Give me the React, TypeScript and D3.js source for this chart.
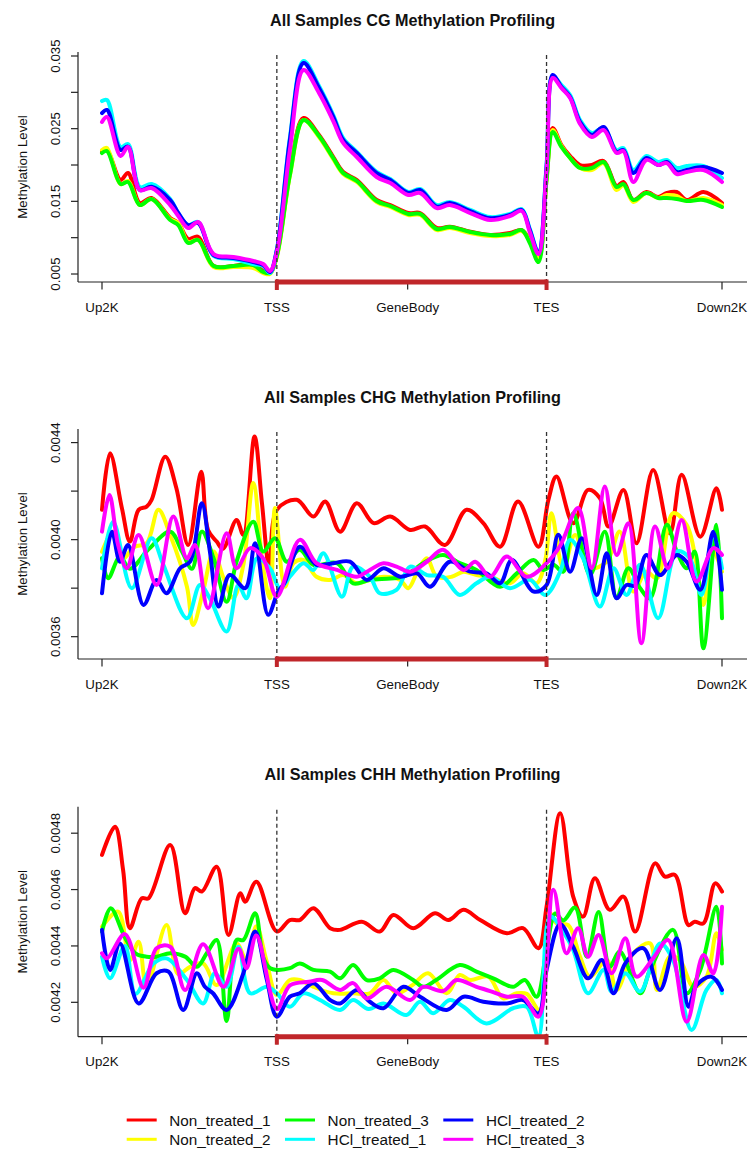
import React from 'react';
import * as d3 from 'd3';

type Pt = [number, number];

const seriesNames = ['Non_treated_1', 'Non_treated_2', 'Non_treated_3', 'HCl_treated_1', 'HCl_treated_2', 'HCl_treated_3'];
const seriesColors = ['#ff0000', '#ffff00', '#00ff00', '#00ffff', '#0000ff', '#ff00ff'];

const regionLabels = ['Up2K', 'TSS', 'GeneBody', 'TES', 'Down2K'];
const regionPos = [0, 28.2, 49.3, 71.7, 100];
const tssPos = 28.2;
const tesPos = 71.7;

// ---------- CG ----------
const cgPos = [0, 0.8, 3, 4.2, 6.1, 8, 11, 12.3, 13.9, 15.5, 18, 21.2, 24.4, 26, 27.1, 28.2, 30.3, 32.5, 35, 37.3, 38.9, 41.1, 44.3, 46.5, 49.4, 51.3, 54, 56.1, 59.4, 62.6, 65.8, 67.7, 69, 70.4, 71.7, 72.7, 74.1, 75.5, 77.1, 79, 80.9, 83, 84.1, 85.7, 87.8, 89.7, 91.1, 92.7, 94.3, 97, 100];
const cgNon1 = [0.02179, 0.02206, 0.01793, 0.0189, 0.01477, 0.01546, 0.01271, 0.01202, 0.00982, 0.01013,
  0.0061, 0.0061, 0.00638, 0.00541, 0.00514, 0.00761, 0.0189, 0.02647, 0.02413, 0.0211,
  0.01904, 0.01793, 0.01518, 0.01449, 0.01339, 0.01339, 0.01133, 0.01151, 0.01082, 0.01037,
  0.01064, 0.01105, 0.00968, 0.0072, 0.01835, 0.02509, 0.02275, 0.02124, 0.02, 0.02,
  0.02055, 0.01711, 0.01766, 0.01518, 0.01628, 0.0156, 0.01615, 0.01628, 0.01518, 0.01628, 0.01477];
const cgNon2 = [0.02206, 0.02234, 0.01738, 0.0178, 0.01449, 0.01532, 0.01257, 0.01202, 0.0094, 0.00968,
  0.00596, 0.00596, 0.00583, 0.00514, 0.005, 0.00734, 0.01849, 0.02619, 0.02385, 0.02082,
  0.01876, 0.01766, 0.01491, 0.01422, 0.01312, 0.01312, 0.01105, 0.01133, 0.01064, 0.01023,
  0.01037, 0.01092, 0.00954, 0.00706, 0.01793, 0.02481, 0.02261, 0.02096, 0.01959, 0.01931,
  0.02027, 0.01656, 0.01725, 0.01491, 0.01615, 0.01546, 0.01587, 0.01573, 0.01504, 0.01546, 0.01449];
const cgNon3 = [0.02165, 0.02192, 0.01738, 0.01766, 0.01449, 0.01532, 0.01243, 0.01174, 0.00927, 0.00968,
  0.0061, 0.0061, 0.00624, 0.00528, 0.00514, 0.00748, 0.01862, 0.02619, 0.02399, 0.02096,
  0.0189, 0.0178, 0.01504, 0.01436, 0.01326, 0.01326, 0.01119, 0.01147, 0.01078, 0.01037,
  0.0105, 0.01105, 0.00927, 0.00665, 0.01793, 0.02454, 0.02248, 0.02096, 0.01959, 0.01959,
  0.02041, 0.01697, 0.01738, 0.01518, 0.01615, 0.01546, 0.01546, 0.01532, 0.01504, 0.01518, 0.01422];
const cgHcl1 = [0.0288, 0.02894, 0.02248, 0.02289, 0.01697, 0.01738, 0.01532, 0.01339, 0.01174, 0.01216,
  0.00748, 0.00706, 0.00638, 0.0061, 0.00514, 0.0083, 0.02371, 0.03431, 0.03087, 0.02688,
  0.02371, 0.02179, 0.01904, 0.01807, 0.01628, 0.0167, 0.01449, 0.01491, 0.01381, 0.01284,
  0.01326, 0.01394, 0.01119, 0.00803, 0.02, 0.03224, 0.031, 0.02963, 0.02619, 0.0244,
  0.02509, 0.02206, 0.02234, 0.01931, 0.02124, 0.02041, 0.02069, 0.01959, 0.01986, 0.01986, 0.01821];
const cgHcl2 = [0.02715, 0.02757, 0.02206, 0.02252, 0.01656, 0.01701, 0.01518, 0.01339, 0.01174, 0.01202,
  0.00761, 0.0072, 0.00665, 0.00624, 0.00528, 0.0083, 0.02344, 0.03403, 0.03059, 0.02664,
  0.02344, 0.02165, 0.0189, 0.01793, 0.01615, 0.01656, 0.01426, 0.01477, 0.01364, 0.01267,
  0.01312, 0.01381, 0.01105, 0.00789, 0.01972, 0.03238, 0.03073, 0.02936, 0.02592, 0.02413,
  0.02523, 0.02179, 0.02206, 0.0189, 0.02096, 0.02, 0.02041, 0.01904, 0.01931, 0.01972, 0.0189];
const cgHcl3 = [0.02592, 0.0266, 0.02124, 0.02248, 0.01656, 0.01683, 0.01449, 0.01298, 0.01133, 0.01216,
  0.00775, 0.00734, 0.00679, 0.00638, 0.00541, 0.00803, 0.02206, 0.03307, 0.02991, 0.02605,
  0.02303, 0.0211, 0.01835, 0.01752, 0.01587, 0.01615, 0.01408, 0.01449, 0.01339, 0.01243,
  0.01298, 0.01367, 0.01078, 0.00775, 0.01931, 0.03197, 0.03059, 0.02922, 0.02564, 0.02385,
  0.02481, 0.02165, 0.02192, 0.01766, 0.02069, 0.02, 0.02027, 0.01876, 0.01904, 0.01931, 0.01766];

// ---------- CHG ----------
const chgNon1: Pt[] = [[0, 0.004123], [1.3, 0.004356], [3.2, 0.004131], [4.5, 0.003992], [5.9, 0.004123], [7.2, 0.004136], [8.0, 0.004164], [10.2, 0.004342], [12.0, 0.004212], [13.9, 0.003978], [16.0, 0.00428], [17.1, 0.00404], [18.5, 0.003992], [19.5, 0.003962], [21.7, 0.004081], [22.8, 0.004019], [24.6, 0.004425], [25.8, 0.00415], [27.0, 0.003883], [28.2, 0.004123], [31.4, 0.004164], [34.1, 0.004095], [36.0, 0.004157], [38.4, 0.004033], [41.1, 0.00415], [43.8, 0.004068], [46.5, 0.004095], [49.7, 0.00404], [52.1, 0.004054], [55.3, 0.003978], [58.8, 0.004123], [61.5, 0.004068], [64.2, 0.003971], [67.1, 0.004157], [70.4, 0.003971], [72.0, 0.004164], [73.3, 0.00426], [76.0, 0.004068], [78.4, 0.004205], [80.3, 0.004171], [81.7, 0.004054], [84.1, 0.004205], [86.2, 0.003985], [88.9, 0.004287], [91.6, 0.004026], [93.5, 0.004267], [96.5, 0.004012], [99.1, 0.004212], [100, 0.004123]];
const chgNon2: Pt[] = [[0, 0.00395], [1.8, 0.004033], [3.4, 0.003923], [5.2, 0.00397], [7.2, 0.003985], [9.1, 0.004123], [11.0, 0.004019], [13.7, 0.003806], [14.7, 0.003648], [16.3, 0.003786], [18.0, 0.003951], [19.6, 0.003842], [21.2, 0.00376], [22.8, 0.003896], [24.4, 0.004233], [26.0, 0.003882], [27.1, 0.003758], [27.9, 0.00413], [29.5, 0.003806], [30.9, 0.003903], [32.5, 0.003916], [34.6, 0.003847], [36.8, 0.003834], [38.9, 0.003854], [41.1, 0.00382], [43.2, 0.003834], [45.4, 0.003847], [48.1, 0.003834], [49.4, 0.0038], [51.0, 0.003875], [52.4, 0.003923], [54.0, 0.003847], [56.4, 0.003847], [58.3, 0.003868], [60.4, 0.003854], [62.6, 0.003847], [65.8, 0.00382], [67.9, 0.003861], [70.1, 0.00382], [71.5, 0.003916], [72.5, 0.004109], [74.4, 0.003882], [76.3, 0.004019], [78.6, 0.003883], [81.4, 0.003909], [83.5, 0.004033], [85.7, 0.003786], [87.8, 0.003868], [89.5, 0.00384], [92.1, 0.004109], [94.3, 0.004061], [95.9, 0.003896], [97.0, 0.003731], [98.6, 0.003951], [100, 0.003868]];
const chgNon3: Pt[] = [[0, 0.003923], [1.0, 0.003841], [2.9, 0.00393], [4.5, 0.00388], [7.5, 0.00396], [11.0, 0.004033], [12.9, 0.003951], [14.5, 0.00388], [16.1, 0.004033], [18.0, 0.003923], [20.1, 0.003744], [21.7, 0.003909], [24.4, 0.004074], [26.0, 0.003951], [27.9, 0.004006], [29.8, 0.003909], [31.9, 0.003958], [34.1, 0.003896], [37.9, 0.003903], [40.5, 0.00382], [43.2, 0.003834], [46.5, 0.00384], [48.6, 0.003847], [51.8, 0.003903], [55.0, 0.003937], [57.7, 0.003903], [60.4, 0.003875], [64.2, 0.003806], [66.9, 0.003861], [69.6, 0.003916], [71.2, 0.003875], [72.8, 0.003896], [74.4, 0.003868], [76.0, 0.004109], [78.7, 0.003854], [81.1, 0.004033], [83.0, 0.00376], [84.9, 0.003882], [86.8, 0.0038], [88.4, 0.003758], [91.1, 0.004061], [92.7, 0.003951], [94.3, 0.003882], [95.6, 0.003951], [97.0, 0.003552], [99.1, 0.004061], [100, 0.003676]];
const chgHcl1: Pt[] = [[0, 0.003882], [1.8, 0.004074], [4.8, 0.0038], [8.0, 0.004006], [9.9, 0.003896], [13.7, 0.003676], [15.8, 0.003813], [17.4, 0.003758], [20.1, 0.003621], [22.0, 0.003813], [23.3, 0.003758], [25.0, 0.003923], [27.1, 0.003882], [28.7, 0.0038], [30.3, 0.003847], [32.5, 0.003903], [34.1, 0.003875], [35.7, 0.003944], [38.7, 0.003765], [40.5, 0.003889], [43.2, 0.003847], [44.8, 0.003779], [47.5, 0.003793], [49.7, 0.003889], [52.4, 0.003854], [55.0, 0.003847], [57.7, 0.003772], [60.4, 0.00382], [62.6, 0.003847], [65.8, 0.0038], [69.0, 0.003834], [71.5, 0.003772], [73.9, 0.003868], [75.5, 0.003999], [77.6, 0.003923], [80.3, 0.003724], [82.5, 0.003882], [84.6, 0.003772], [86.8, 0.003896], [89.7, 0.003676], [92.7, 0.003951], [94.8, 0.003923], [96.7, 0.003772], [98.6, 0.004019], [100, 0.003882]];
const chgHcl2: Pt[] = [[0, 0.003779], [1.6, 0.004033], [2.9, 0.003909], [4.2, 0.003978], [6.7, 0.003731], [8.8, 0.003834], [10.4, 0.003779], [12.6, 0.003882], [14.2, 0.003909], [16.1, 0.00415], [17.4, 0.003951], [18.8, 0.003724], [20.6, 0.003854], [23.1, 0.0038], [24.7, 0.003985], [26.8, 0.00369], [28.4, 0.003786], [29.4, 0.00382], [31.9, 0.003971], [34.6, 0.003896], [37.3, 0.003903], [40.0, 0.003909], [42.7, 0.003834], [45.4, 0.003882], [48.1, 0.003847], [50.8, 0.003861], [52.9, 0.003806], [56.1, 0.003909], [59.4, 0.003868], [62.0, 0.003861], [64.2, 0.00382], [66.1, 0.003916], [69.6, 0.003786], [71.7, 0.003813], [73.6, 0.00402], [75.5, 0.003868], [77.4, 0.004006], [79.8, 0.003772], [81.4, 0.003944], [83.0, 0.003758], [84.6, 0.003813], [86.0, 0.00381], [87.8, 0.003937], [90.0, 0.003854], [92.7, 0.003937], [94.3, 0.003909], [96.5, 0.003793], [98.6, 0.004033], [100, 0.003793]];
const chgHcl3: Pt[] = [[0, 0.004033], [1.2, 0.004184], [2.6, 0.003978], [4.0, 0.003882], [5.9, 0.004019], [8.8, 0.003813], [11.5, 0.004095], [13.7, 0.003923], [15.0, 0.003978], [17.1, 0.003717], [20.1, 0.004026], [21.7, 0.003882], [23.9, 0.003965], [26.0, 0.003923], [28.2, 0.003765], [31.9, 0.003999], [34.6, 0.003903], [37.9, 0.003875], [41.1, 0.003847], [43.2, 0.003875], [45.4, 0.003903], [47.5, 0.003889], [49.7, 0.003868], [52.4, 0.003909], [55.0, 0.003958], [58.3, 0.003875], [60.2, 0.003909], [62.6, 0.003847], [65.3, 0.00393], [68.5, 0.003847], [71.7, 0.003903], [73.9, 0.003975], [76.8, 0.00413], [79.0, 0.003882], [81.1, 0.004219], [83.0, 0.003937], [84.9, 0.004068], [87.0, 0.003573], [89.2, 0.004054], [91.3, 0.003882], [93.5, 0.004081], [95.9, 0.003827], [98.6, 0.003965], [100, 0.003937]];

// ---------- CHH ----------
const chhNon1: Pt[] = [[0, 0.004723], [2.1, 0.004823], [3.4, 0.00467], [4.5, 0.004463], [6.4, 0.004569], [7.5, 0.004569], [11.0, 0.004758], [13.4, 0.004516], [15.0, 0.004605], [16.1, 0.004593], [18.5, 0.004681], [20.4, 0.004439], [22.3, 0.004587], [23.1, 0.004557], [24.9, 0.004628], [28.2, 0.004451], [30.3, 0.004492], [31.9, 0.004492], [34.1, 0.004534], [36.8, 0.004463], [38.4, 0.004457], [41.9, 0.004486], [44.8, 0.004451], [47.0, 0.00451], [50.2, 0.004463], [53.7, 0.004516], [55.9, 0.004492], [58.3, 0.004528], [61.0, 0.004492], [65.3, 0.004445], [67.9, 0.004463], [70.4, 0.004392], [71.7, 0.004539], [73.9, 0.004871], [76.0, 0.004575], [77.6, 0.004504], [79.5, 0.00464], [81.9, 0.004528], [84.1, 0.004575], [86.0, 0.004451], [89.2, 0.004693], [90.8, 0.004646], [92.4, 0.004652], [94.6, 0.004474], [95.6, 0.004486], [97.0, 0.00448], [98.9, 0.004622], [100, 0.004593]];
const chhNon2: Pt[] = [[0, 0.004468], [2.6, 0.004522], [4.5, 0.00435], [5.9, 0.004415], [7.2, 0.004255], [10.4, 0.004474], [12.3, 0.0043], [14.2, 0.004326], [16.3, 0.004338], [18.5, 0.004261], [21.7, 0.004409], [23.3, 0.00435], [24.9, 0.00447], [26.5, 0.00435], [28.2, 0.004226], [30.3, 0.004279], [31.9, 0.004279], [34.1, 0.004255], [37.3, 0.004232], [40.5, 0.004232], [43.2, 0.004232], [45.4, 0.004279], [47.5, 0.004232], [50.0, 0.00426], [52.6, 0.004303], [55.6, 0.004232], [57.7, 0.004297], [59.4, 0.004279], [62.3, 0.004291], [64.7, 0.004214], [66.9, 0.004232], [68.5, 0.00423], [70.6, 0.004173], [72.3, 0.004516], [73.3, 0.00448], [75.2, 0.004474], [77.1, 0.004362], [78.7, 0.004291], [81.4, 0.00435], [83.0, 0.004244], [85.7, 0.004374], [88.4, 0.004409], [89.5, 0.004244], [91.6, 0.004362], [93.2, 0.00435], [95.4, 0.004255], [97.5, 0.004291], [99.1, 0.004445], [100, 0.004386]];
const chhNon3: Pt[] = [[0, 0.00445], [1.4, 0.004534], [3.7, 0.00443], [5.4, 0.004374], [7.2, 0.004362], [8.8, 0.004362], [11.0, 0.004374], [13.4, 0.004362], [15.3, 0.004326], [16.9, 0.004374], [18.5, 0.004421], [20.1, 0.004134], [21.7, 0.004421], [22.8, 0.004421], [24.7, 0.004516], [26.0, 0.00436], [27.1, 0.004321], [28.2, 0.004315], [30.3, 0.004321], [31.9, 0.004338], [34.1, 0.004315], [36.8, 0.004309], [38.4, 0.004285], [40.5, 0.004332], [42.7, 0.004279], [44.8, 0.004285], [47.0, 0.004315], [50.2, 0.004279], [51.8, 0.004255], [53.9, 0.004279], [57.7, 0.004332], [60.4, 0.004309], [63.1, 0.004285], [66.3, 0.004255], [68.2, 0.004279], [70.1, 0.00422], [71.7, 0.004386], [73.1, 0.004515], [74.4, 0.00449], [76.3, 0.004536], [78.2, 0.004362], [80.1, 0.00452], [81.9, 0.004326], [83.5, 0.00438], [86.8, 0.004232], [88.4, 0.004315], [92.1, 0.004457], [94.3, 0.004232], [96.5, 0.004315], [99.1, 0.004539], [100, 0.004338]];
const chhHcl1: Pt[] = [[0, 0.004362], [1.3, 0.004285], [3.7, 0.0044], [5.4, 0.00423], [8.3, 0.004338], [10.4, 0.004356], [13.7, 0.004279], [16.3, 0.004196], [18.2, 0.004303], [20.1, 0.004255], [22.0, 0.004397], [23.9, 0.004232], [26.6, 0.004255], [28.2, 0.004232], [30.3, 0.004184], [32.5, 0.004232], [35.2, 0.004208], [38.4, 0.004173], [40.5, 0.004208], [43.0, 0.004176], [45.4, 0.004196], [49.1, 0.004155], [51.3, 0.004202], [53.4, 0.004161], [56.1, 0.004208], [58.3, 0.004184], [62.0, 0.004125], [66.3, 0.004179], [68.5, 0.004184], [70.4, 0.004078], [72.3, 0.004504], [74.4, 0.00445], [76.0, 0.004386], [78.4, 0.004232], [80.9, 0.004315], [82.2, 0.004238], [84.4, 0.004303], [86.8, 0.004238], [90.0, 0.004409], [92.1, 0.00435], [95.1, 0.004102], [97.5, 0.004244], [99.1, 0.004279], [100, 0.004232]];
const chhHcl2: Pt[] = [[0, 0.004457], [1.3, 0.004315], [2.9, 0.004409], [5.9, 0.004196], [8.8, 0.004303], [10.7, 0.004309], [13.1, 0.004173], [15.3, 0.004303], [16.6, 0.004255], [17.9, 0.004232], [20.1, 0.004173], [22.8, 0.004303], [24.7, 0.004451], [26.6, 0.004279], [28.2, 0.004149], [30.3, 0.00422], [31.9, 0.004232], [34.1, 0.004268], [36.8, 0.004208], [38.4, 0.004196], [41.1, 0.004244], [43.2, 0.004202], [45.4, 0.004179], [48.6, 0.004255], [51.3, 0.00422], [55.6, 0.004173], [58.3, 0.00422], [61.5, 0.004202], [65.3, 0.004196], [67.9, 0.004208], [70.4, 0.004161], [71.7, 0.004315], [73.9, 0.004477], [76.0, 0.004397], [78.4, 0.004285], [80.6, 0.00435], [82.5, 0.004232], [84.4, 0.004338], [87.3, 0.004392], [90.0, 0.004244], [92.7, 0.004427], [94.6, 0.004184], [95.9, 0.004261], [98.3, 0.004291], [100, 0.004244]];
const chhHcl3: Pt[] = [[0, 0.004374], [0.8, 0.004356], [3.7, 0.004442], [6.7, 0.004252], [8.8, 0.004392], [11.0, 0.004397], [13.4, 0.004244], [16.3, 0.004406], [19.6, 0.004255], [22.0, 0.00439], [23.3, 0.004321], [24.9, 0.004437], [28.2, 0.004176], [30.3, 0.00426], [33.4, 0.004273], [35.5, 0.004279], [38.4, 0.004244], [40.5, 0.004268], [42.7, 0.004214], [45.9, 0.004255], [49.7, 0.004208], [51.8, 0.004255], [55.0, 0.00424], [57.2, 0.004279], [60.4, 0.004255], [62.6, 0.00424], [65.3, 0.00422], [67.9, 0.00422], [70.4, 0.004149], [72.8, 0.004599], [74.9, 0.004374], [76.8, 0.004463], [78.4, 0.004362], [80.1, 0.004439], [82.2, 0.004303], [84.4, 0.004427], [86.2, 0.004291], [88.9, 0.004356], [91.3, 0.004421], [94.3, 0.004131], [97.0, 0.004368], [98.6, 0.004303], [100, 0.004539]];

const cgTicks = [0.005, 0.01, 0.015, 0.02, 0.025, 0.03, 0.035];
const cgTickLabels = [0.005, 0.015, 0.025, 0.035];
const chgTicks = [0.0036, 0.0038, 0.004, 0.0042, 0.0044];
const chgTickLabels = [0.0036, 0.004, 0.0044];
const chhTicks = [0.0042, 0.0044, 0.0046, 0.0048];
const chhTickLabels = [0.0042, 0.0044, 0.0046, 0.0048];

const zip = (xs: number[], ys: number[]): Pt[] => xs.map((x, i) => [x, ys[i]]);

const W = 748;
const H = 1149;
const FONT = '"Liberation Sans", Arial, Helvetica, sans-serif';
const plotLeft = 78;
const plotRight = 747;
const panelH = 230;
const barColor = '#c0262a';

const x = d3.scaleLinear().domain([0, 100]).range([102, 722]);

interface PanelDef {
  title: string;
  top: number;
  domain: [number, number];
  ticks: number[];
  labels: number[];
  fmt: (n: number) => string;
  series: Pt[][];
}

const panels: PanelDef[] = [
  {
    title: 'All Samples CG Methylation Profiling',
    top: 52,
    domain: [0.0039, 0.03555],
    ticks: cgTicks,
    labels: cgTickLabels,
    fmt: d3.format('.3f'),
    series: [cgNon1, cgNon2, cgNon3, cgHcl1, cgHcl2, cgHcl3].map((v) => zip(cgPos, v)),
  },
  {
    title: 'All Samples CHG Methylation Profiling',
    top: 429,
    domain: [0.003508, 0.004456],
    ticks: chgTicks,
    labels: chgTickLabels,
    fmt: d3.format('.4f'),
    series: [chgNon1, chgNon2, chgNon3, chgHcl1, chgHcl2, chgHcl3],
  },
  {
    title: 'All Samples CHH Methylation Profiling',
    top: 806.7,
    domain: [0.004078, 0.004894],
    ticks: chhTicks,
    labels: chhTickLabels,
    fmt: d3.format('.4f'),
    series: [chhNon1, chhNon2, chhNon3, chhHcl1, chhHcl2, chhHcl3],
  },
];

function Panel({ p }: { p: PanelDef }) {
  const bottom = p.top + panelH;
  const y = d3.scaleLinear().domain(p.domain).range([bottom, p.top]);
  const line = d3
    .line<Pt>()
    .x((d) => x(d[0]))
    .y((d) => y(d[1]))
    .curve(d3.curveCatmullRom.alpha(0.5));
  const midY = (p.top + bottom) / 2;
  return (
    <g>
      <text x={(plotLeft + plotRight) / 2} y={p.top - 26.5} textAnchor="middle" fontSize={16.2} fontWeight="bold" fill="#111">
        {p.title}
      </text>
      <text transform={`translate(26.5,${midY}) rotate(-90)`} textAnchor="middle" fontSize={13.3} fill="#111">
        Methylation Level
      </text>
      {/* series */}
      {p.series.map((s, i) => (
        <path key={i} d={line(s) || ''} fill="none" stroke={seriesColors[i]} strokeWidth={4} strokeLinejoin="round" strokeLinecap="round" />
      ))}
      {/* dashed TSS/TES */}
      {[tssPos, tesPos].map((u, i) => (
        <line key={i} x1={x(u)} x2={x(u)} y1={p.top + 3} y2={bottom} stroke="#333" strokeWidth={1.3} strokeDasharray="4,3" />
      ))}
      {/* axes */}
      <line x1={plotLeft} x2={plotLeft} y1={p.top} y2={bottom} stroke="#222" strokeWidth={1.2} />
      <line x1={plotLeft} x2={plotRight} y1={bottom} y2={bottom} stroke="#222" strokeWidth={1.2} />
      {p.ticks.map((t, i) => (
        <line key={i} x1={plotLeft - 7} x2={plotLeft} y1={y(t)} y2={y(t)} stroke="#222" strokeWidth={1.2} />
      ))}
      {p.labels.map((t, i) => (
        <text key={i} transform={`translate(60,${y(t)}) rotate(-90)`} textAnchor="middle" fontSize={13.3} fill="#111">
          {p.fmt(t)}
        </text>
      ))}
      {regionPos.map((u, i) => (
        <line key={i} x1={x(u)} x2={x(u)} y1={bottom} y2={bottom + 7.5} stroke="#222" strokeWidth={1.2} />
      ))}
      {/* gene body bar */}
      <line x1={x(tssPos)} x2={x(tesPos)} y1={bottom} y2={bottom} stroke={barColor} strokeWidth={5} />
      {[tssPos, tesPos].map((u, i) => (
        <line key={i} x1={x(u)} x2={x(u)} y1={bottom - 2.5} y2={bottom + 8} stroke={barColor} strokeWidth={4} />
      ))}
      {regionLabels.map((l, i) => (
        <text key={i} x={x(regionPos[i])} y={bottom + 29.5} textAnchor="middle" fontSize={13.3} fill="#111">
          {l}
        </text>
      ))}
    </g>
  );
}

function Legend() {
  const colX = [126.7, 285, 443.3];
  const rowY = [1120, 1139.3];
  return (
    <g>
      {seriesNames.map((n, i) => {
        const cx = colX[Math.floor(i / 2)];
        const ry = rowY[i % 2];
        return (
          <g key={n}>
            <line x1={cx} x2={cx + 30} y1={ry} y2={ry} stroke={seriesColors[i]} strokeWidth={3} />
            <text x={cx + 42.6} y={ry + 5.7} fontSize={15.3} fill="#111">
              {n}
            </text>
          </g>
        );
      })}
    </g>
  );
}

export default function App() {
  return (
    <svg
      width={W}
      height={H}
      viewBox={`0 0 ${W} ${H}`}
      style={{ position: 'absolute', left: 0, top: 0, background: '#fff' }}
      fontFamily={FONT}
    >
      <rect x={0} y={0} width={W} height={H} fill="#fff" />
      {panels.map((p, i) => (
        <Panel key={i} p={p} />
      ))}
      <Legend />
    </svg>
  );
}
